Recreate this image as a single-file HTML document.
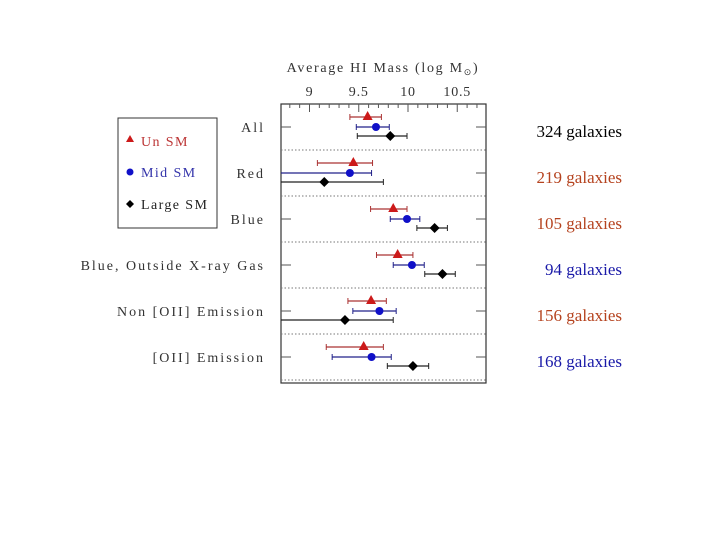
<!DOCTYPE html>
<html><head><meta charset="utf-8"><style>
body{margin:0;background:#fff;width:720px;height:540px;overflow:hidden}
svg{display:block}
.lbl{font-family:"Liberation Serif",serif;font-size:14px;fill:#333;letter-spacing:0.8px}
.cat{letter-spacing:2px}
.ttl{letter-spacing:1.7px}
.leg{letter-spacing:1.4px}
.cnt{font-family:"Liberation Serif",serif;font-size:17px}
</style></head><body>
<svg id="chart" width="720" height="540"></svg>
<script>
const categories=["All","Red","Blue","Blue, Outside X-ray Gas","Non [OII] Emission","[OII] Emission"];
const counts=["324 galaxies","219 galaxies","105 galaxies","94 galaxies","156 galaxies","168 galaxies"];
const countColors=["#000","#b5431f","#b5431f","#1a1aa8","#b5431f","#1a1aa8"];
const unVal=[9.59,9.445,9.85,9.895,9.625,9.55];
const unLo=[9.41,9.08,9.62,9.68,9.39,9.17];
const unHi=[9.73,9.64,9.99,10.05,9.78,9.75];
const midVal=[9.675,9.41,9.99,10.04,9.71,9.63];
const midLo=[9.475,8.7,9.82,9.85,9.44,9.23];
const midHi=[9.81,9.63,10.12,10.165,9.88,9.83];
const lgVal=[9.82,9.15,10.27,10.35,9.36,10.05];
const lgLo=[9.485,8.7,10.09,10.17,8.7,9.79];
const lgHi=[9.99,9.75,10.40,10.48,9.85,10.21];
const ticks=[9,9.5,10,10.5];
const tickLabels=["9","9.5","10","10.5"];
const NS="http://www.w3.org/2000/svg";
const svg=document.getElementById('chart');
const L=281,R=486,T=104,B=383;
const x=v=>309.5+(v-9)*98.5;
const rowY=i=>127+i*46;
function mk(tag,attrs,parent){const e=document.createElementNS(NS,tag);for(const k in attrs)e.setAttribute(k,attrs[k]);(parent||svg).appendChild(e);return e;}
let t=mk('text',{x:383,y:72,'text-anchor':'middle',class:'lbl ttl'});t.textContent="Average HI Mass (log M";

let s=mk('tspan',{'font-size':'9','dy':'3'},t);s.textContent="\u2299";
let s2=mk('tspan',{'dy':'-3'},t);s2.textContent=")";
let fr=mk('rect',{x:L,y:T,width:R-L,height:B-T,fill:'none',stroke:'#333','stroke-width':1.2});

for(let v=8.8;v<=10.8;v+=0.1){const xx=x(v);if(xx<L||xx>R)continue;const major=Math.abs(v*2-Math.round(v*2))<1e-6;mk('line',{x1:xx,x2:xx,y1:T,y2:T+(major?8:4),stroke:'#555'});}
ticks.forEach((v,i)=>{const e=mk('text',{x:x(v),y:96,'text-anchor':'middle',class:'lbl'});e.textContent=tickLabels[i];
});
categories.forEach((c,i)=>{const y=rowY(i);
mk('line',{x1:L,x2:L+10,y1:y,y2:y,stroke:'#555'});mk('line',{x1:R-10,x2:R,y1:y,y2:y,stroke:'#555'});
mk('line',{x1:L,x2:R,y1:y+23,y2:y+23,stroke:'#777','stroke-dasharray':'1.5,2'});
const e=mk('text',{x:265,y:y+5,'text-anchor':'end',class:'lbl cat'});e.textContent=c;

const n=mk('text',{x:622,y:y+10,'text-anchor':'end',class:'cnt',fill:countColors[i]});n.textContent=counts[i];

function err(lo,hi,yy,col){mk('line',{x1:Math.max(L,x(lo)),x2:x(hi),y1:yy,y2:yy,stroke:col,'stroke-width':1.2});
[lo,hi].forEach(v=>{if(x(v)>L)mk('line',{x1:x(v),x2:x(v),y1:yy-3,y2:yy+3,stroke:col});});}
let yy=y-10;err(unLo[i],unHi[i],yy,'#a33');
let m=mk('polygon',{points:`${x(unVal[i])},${yy-6} ${x(unVal[i])-5},${yy+3} ${x(unVal[i])+5},${yy+3}`,fill:'#cc1a1a'});

yy=y;err(midLo[i],midHi[i],yy,'#22228a');
m=mk('circle',{cx:x(midVal[i]),cy:yy,r:4,fill:'#1010c8'});

yy=y+9;err(lgLo[i],lgHi[i],yy,'#222');
const xv=x(lgVal[i]);
m=mk('polygon',{points:`${xv},${yy-5} ${xv+5},${yy} ${xv},${yy+5} ${xv-5},${yy}`,fill:'#000'});

});
const lg=mk('g',{});
mk('rect',{x:118,y:118,width:99,height:110,fill:'#fff',stroke:'#333'},lg);
mk('polygon',{points:'130,135 126,142 134,142',fill:'#cc1a1a'},lg);
let a=mk('text',{x:141,y:146,class:'lbl leg'},lg);a.textContent="Un SM";a.style.fill='#b33';
mk('circle',{cx:130,cy:172,r:3.5,fill:'#1010c8'},lg);
a=mk('text',{x:141,y:177,class:'lbl leg'},lg);a.textContent="Mid SM";a.style.fill='#3333aa';
mk('polygon',{points:'130,200 134,204 130,208 126,204',fill:'#000'},lg);
a=mk('text',{x:141,y:209,class:'lbl leg'},lg);a.textContent="Large SM";a.style.fill='#222';
</script>
</body></html>
